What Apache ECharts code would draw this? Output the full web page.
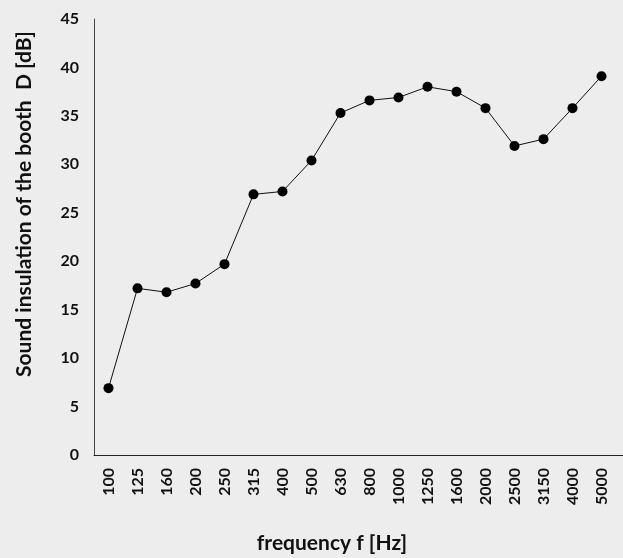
<!DOCTYPE html>
<html>
<head>
<meta charset="utf-8">
<script src="https://cdn.jsdelivr.net/npm/echarts@6/dist/echarts.min.js"></script>
<style>
html,body{margin:0;padding:0;background:#ededed;}
#c{width:623px;height:558px;}
</style>
</head>
<body>
<div id="c"></div>
<script>
const categories = ['100','125','160','200','250','315','400','500','630','800','1000','1250','1600','2000','2500','3150','4000','5000'];
const insulation = [6.9, 17.2, 16.8, 17.7, 19.7, 26.9, 27.2, 30.4, 35.3, 36.6, 36.9, 38.0, 37.5, 35.8, 31.9, 32.6, 35.8, 39.1];
const yTicks = { min: 0, max: 45, interval: 5 };
const xTitle = 'frequency f [Hz]';
const yTitle = 'Sound insulation of the booth  D [dB]';

const FONT = 'Lato, "Open Sans", sans-serif';
const chart = echarts.init(document.getElementById('c'), null, {renderer: 'canvas'});
chart.setOption({
  backgroundColor: '#ededed',
  animation: false,
  grid: { left: 94, right: 7, top: 19, bottom: 103, containLabel: false },
  xAxis: {
    type: 'category',
    data: categories,
    boundaryGap: true,
    axisLine: { show: true, lineStyle: { color: '#222', width: 1 } },
    axisTick: { show: false },
    splitLine: { show: false },
    axisLabel: {
      rotate: 90,
      margin: 13,
      interval: 0,
      color: '#111',
      fontFamily: FONT,
      fontWeight: 'bold',
      fontSize: 16,
      padding: [0, 0, 12, 0]
    }
  },
  yAxis: {
    type: 'value',
    min: yTicks.min,
    max: yTicks.max,
    interval: yTicks.interval,
    axisLine: { show: true, lineStyle: { color: '#444', width: 1 } },
    axisTick: { show: false },
    splitLine: { show: false },
    axisLabel: {
      margin: 15,
      color: '#111',
      fontFamily: FONT,
      fontWeight: 'bold',
      fontSize: 16
    }
  },
  graphic: [
    { type: 'line', shape: { x1: 616, y1: 455.5, x2: 623, y2: 455.5 }, style: { stroke: '#222', lineWidth: 1 } },
    { type: 'text', x: 332, y: 543, style: { text: xTitle, font: 'bold 21px ' + FONT, fill: '#111', align: 'center', verticalAlign: 'middle' } },
    { type: 'text', x: 24, y: 204, rotation: Math.PI / 2, style: { text: yTitle, font: 'bold 21px ' + FONT, fill: '#111', align: 'center', verticalAlign: 'middle' } }
  ],
  series: [{
    type: 'line',
    data: insulation,
    symbol: 'circle',
    symbolSize: 10,
    itemStyle: { color: '#000' },
    lineStyle: { color: '#111', width: 1 }
  }]
});
</script>
</body>
</html>
